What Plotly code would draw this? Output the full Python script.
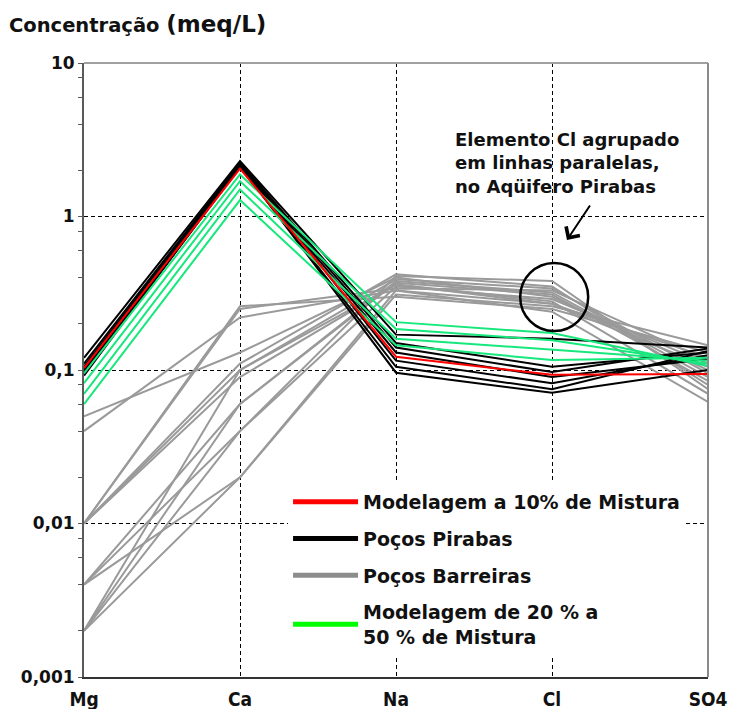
import plotly.graph_objects as go

# ---------------- data ----------------
elements = ["Mg", "Ca", "Na", "Cl", "SO4"]

modelo_10 = [0.103, 2.05, 0.122, 0.093, 0.094]

pocos_pirabas = [
    [0.120, 2.30, 0.170, 0.160, 0.140],
    [0.110, 2.25, 0.150, 0.105, 0.130],
    [0.105, 2.20, 0.140, 0.097, 0.138],
    [0.100, 2.15, 0.130, 0.090, 0.118],
    [0.097, 2.20, 0.115, 0.082, 0.125],
    [0.095, 2.10, 0.105, 0.075, 0.133],
    [0.092, 2.15, 0.096, 0.071, 0.100],
]

modelos_20_50 = [
    [0.095, 1.88, 0.205, 0.174, 0.106],
    [0.082, 1.70, 0.185, 0.156, 0.110],
    [0.070, 1.50, 0.160, 0.135, 0.115],
    [0.060, 1.28, 0.145, 0.116, 0.120],
]

pocos_barreiras = [
    [0.050, 0.13, 0.40, 0.30, 0.100],
    [0.040, 0.22, 0.33, 0.27, 0.120],
    [0.010, 0.26, 0.30, 0.25, 0.130],
    [0.010, 0.25, 0.34, 0.33, 0.115],
    [0.010, 0.11, 0.42, 0.35, 0.080],
    [0.010, 0.09, 0.36, 0.28, 0.070],
    [0.004, 0.06, 0.38, 0.32, 0.090],
    [0.004, 0.04, 0.35, 0.29, 0.110],
    [0.004, 0.02, 0.31, 0.26, 0.145],
    [0.002, 0.02, 0.33, 0.24, 0.062],
    [0.002, 0.04, 0.41, 0.38, 0.075],
    [0.002, 0.06, 0.37, 0.31, 0.085],
    [0.010, 0.10, 0.39, 0.34, 0.095],
    [0.002, 0.10, 0.36, 0.27, 0.105],
]

y_tickvals = [0.001, 0.01, 0.1, 1, 10]
y_ticktext = ["0,001", "0,01", "0,1", "1", "10"]
y_minor = [m * 10.0 ** e for e in range(-3, 1) for m in (2, 4, 6, 8)]

legend_labels = [
    "Modelagem a 10% de Mistura",
    "Poços Pirabas",
    "Poços Barreiras",
    "Modelagem de 20 % a<br>50 % de Mistura",
]

# ---------------- styles ----------------
GRAY = "#9a9a9a"
BLACK = "#000000"
RED = "#ff0000"
GREEN = "#16e87c"
xpos = list(range(len(elements)))

fig = go.Figure()

for row in pocos_barreiras:
    fig.add_trace(go.Scatter(x=xpos, y=row, mode="lines",
                             line=dict(color=GRAY, width=2), showlegend=False, hoverinfo="skip"))
for row in pocos_pirabas:
    fig.add_trace(go.Scatter(x=xpos, y=row, mode="lines",
                             line=dict(color=BLACK, width=2), showlegend=False, hoverinfo="skip"))
for row in modelos_20_50:
    fig.add_trace(go.Scatter(x=xpos, y=row, mode="lines",
                             line=dict(color=GREEN, width=2), showlegend=False, hoverinfo="skip"))
fig.add_trace(go.Scatter(x=xpos, y=modelo_10, mode="lines",
                         line=dict(color=RED, width=2), showlegend=False, hoverinfo="skip"))

# legend entries
legend_colors = [RED, BLACK, "#8c8c8c", "#00ff00"]
for i, (lab, col) in enumerate(zip(legend_labels, legend_colors)):
    fig.add_trace(go.Scatter(x=[None], y=[None], mode="lines", name=lab,
                             legendgroup=f"g{i}", line=dict(color=col, width=5)))

fig.update_layout(
    width=734, height=709,
    margin=dict(l=84, r=26, t=63, b=32, autoexpand=False),
    paper_bgcolor="white", plot_bgcolor="white",
    font=dict(family="DejaVu Sans", color="black"),
    title=dict(
        text="<b>Concentração <span style='font-size:23px'>(meq/L)</span></b>",
        font=dict(family="DejaVu Sans", size=19.5, color="#111"),
        xref="container", yref="container", x=9 / 734, xanchor="left",
        y=1 - 25 / 709, yanchor="middle",
    ),
    xaxis=dict(
        range=[0, 4], tickmode="array", tickvals=xpos, ticktext=elements,
        tickfont=dict(family="Liberation Sans Narrow, DejaVu Sans Condensed", size=19,
                      weight="bold", color="#111"),
        showgrid=True, gridcolor="black", griddash="4px,3px", gridwidth=1,
        showline=True, linecolor="#333", linewidth=2, ticks="", zeroline=False,
        ticklabelstandoff=4, fixedrange=True, automargin=False,
    ),
    yaxis=dict(
        type="log", range=[-3, 1], tickmode="array", tickvals=y_tickvals, ticktext=y_ticktext,
        tickfont=dict(family="DejaVu Sans", size=17, weight="bold", color="#111"),
        showgrid=True, gridcolor="black", griddash="4px,3px", gridwidth=1,
        showline=True, linecolor="#5a5a5a", linewidth=2,
        ticks="outside", ticklen=4, tickcolor="#5a5a5a", tickwidth=1,
        minor=dict(tickvals=y_minor, ticks="outside", ticklen=4, tickcolor="#5a5a5a", showgrid=False),
        zeroline=False, fixedrange=True, automargin=False,
    ),
    legend=dict(
        x=0.327, y=0.316, xanchor="left", yanchor="top",
        bgcolor="white", borderwidth=0,
        font=dict(family="DejaVu Sans", size=19, weight="bold", color="#111"),
        itemwidth=65, traceorder="grouped", tracegroupgap=9, valign="middle",
    ),
    shapes=[
        dict(type="line", xref="paper", yref="paper", x0=0, x1=1, y0=1, y1=1,
             line=dict(color="#a0a0a0", width=2)),
        dict(type="line", xref="paper", yref="paper", x0=1, x1=1, y0=0, y1=1,
             line=dict(color="#8a8a8a", width=2)),
        dict(type="circle", xref="paper", yref="paper",
             x0=0.699, x1=0.808, y0=0.5635, y1=0.6743,
             line=dict(color="black", width=2.5)),
    ],
    annotations=[
        dict(text="<b>Elemento Cl agrupado<br>em linhas paralelas,<br>no Aqüifero Pirabas</b>",
             xref="paper", yref="paper", x=0.592, y=0.896, xanchor="left", yanchor="top",
             align="left", showarrow=False,
             font=dict(family="DejaVu Sans", size=18, color="#111")),
        dict(text="", xref="paper", yref="paper", x=0.774, y=0.7117,
             ax=24, ay=-36, showarrow=True, arrowhead=4, arrowsize=1.6,
             arrowwidth=2, arrowcolor="black"),
    ],
)

fig.write_html("out.html", config={"displayModeBar": False},
               post_script="document.body.style.margin='0';")
